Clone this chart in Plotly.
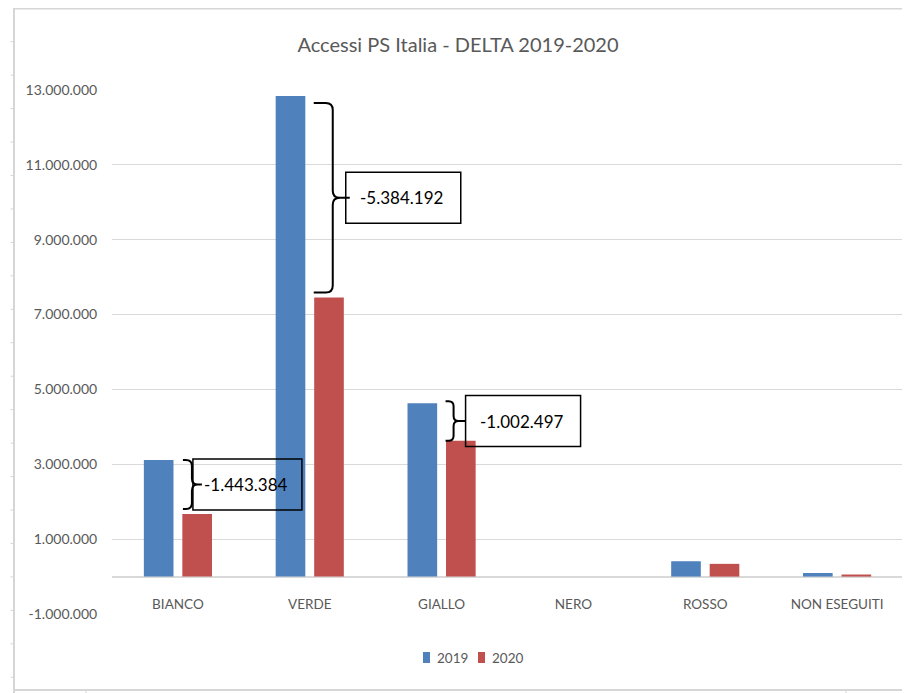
import plotly.graph_objects as go

# ---------------- data ----------------
categories = ["BIANCO", "VERDE", "GIALLO", "NERO", "ROSSO", "NON ESEGUITI"]
values_2019 = [3115000, 12840000, 4630000, 0, 410000, 95000]
values_2020 = [1671616, 7455808, 3627503, 0, 340000, 55000]
series_names = ["2019", "2020"]
y_tickvals = [-1000000, 1000000, 3000000, 5000000, 7000000, 9000000, 11000000, 13000000]
y_ticklabels = ["-1.000.000", "1.000.000", "3.000.000", "5.000.000", "7.000.000",
                "9.000.000", "11.000.000", "13.000.000"]
delta_categories = ["BIANCO", "VERDE", "GIALLO"]
title_text = "Accessi PS Italia - DELTA 2019-2020"

# ---------------- geometry / style ----------------
# page body has an 8px margin: work in window pixels, then shift by OFF
OFF = 8
W, H = 910, 693                  # window size
L, R, T, B = 112, 903, 90, 614   # plot area in window pixels
FW, FH = W - OFF, H - OFF        # figure size
YMIN, YMAX = -1000000, 13000000
FONT = "Lato, sans-serif"
GRAY = "#595959"
GRID = "#d9d9d9"
COLORS = ["#4F81BD", "#C0504D"]

cw = (R - L) / len(categories)          # px per category unit
yscale = (YMAX - YMIN) / (B - T)         # value per px


def fmt(v):
    s = f"{abs(int(v)):,}".replace(",", ".")
    return ("-" if v < 0 else "") + s


def bx(i, off_px):
    return i + off_px / cw


def px2paper_x(px):
    return (px - L) / (R - L)


def px2paper_y(py):
    return (B - py) / (B - T)


def cont_x(px):
    return (px - OFF) / FW


def cont_y(py):
    return 1 - (py - OFF) / FH


# per-delta brace/box styling (pixel offsets from category centre)
brace_style = {
    "BIANCO": dict(x0=5, x1=14, x2=24, pad_top=0, pad_bot=5, box_l=15, box_r=124, text=24, r=6),
    "VERDE": dict(x0=4, x1=23, x2=40, pad_top=-7, pad_bot=5, box_l=36, box_r=151, text=48, r=7),
    "GIALLO": dict(x0=4, x1=12, x2=24, pad_top=2, pad_bot=0, box_l=24, box_r=139, text=36, r=5),
}

fig = go.Figure()
for name, vals, col in zip(series_names, [values_2019, values_2020], COLORS):
    fig.add_trace(go.Bar(x=list(range(len(categories))), y=vals, name=name,
                         marker=dict(color=col, line=dict(width=0))))

shapes = []
annotations = []
for cat in delta_categories:
    i = categories.index(cat)
    st = brace_style[cat]
    v19, v20 = values_2019[i], values_2020[i]
    yt = v19 + st["pad_top"] * yscale
    yb = v20 + st["pad_bot"] * yscale
    ym = (yt + yb) / 2
    rr = st["r"] * yscale
    X0, X1, X2 = bx(i, st["x0"]), bx(i, st["x1"]), bx(i, st["x2"])
    rx = min(st["r"], st["x1"] - st["x0"]) / cw
    path = (f"M {X0},{yt} L {X1 - rx},{yt} Q {X1},{yt} {X1},{yt - rr} "
            f"L {X1},{ym + rr} Q {X1},{ym} {X1 + rx},{ym} L {X2},{ym} "
            f"M {X1 + rx},{ym} Q {X1},{ym} {X1},{ym - rr} "
            f"L {X1},{yb + rr} Q {X1},{yb} {X1 - rx},{yb} L {X0},{yb}")
    shapes.append(dict(type="path", xref="x", yref="y", path=path,
                       line=dict(color="black", width=2)))
    half_h = 25.5 * yscale
    shapes.append(dict(type="rect", xref="x", yref="y",
                       x0=bx(i, st["box_l"]), x1=bx(i, st["box_r"]),
                       y0=ym - half_h, y1=ym + half_h,
                       line=dict(color="black", width=1.5), fillcolor="rgba(0,0,0,0)"))
    annotations.append(dict(xref="x", yref="y", x=bx(i, st["text"]), y=ym,
                            xanchor="left", yanchor="middle", showarrow=False,
                            text=fmt(v20 - v19),
                            font=dict(family=FONT, size=17, color="black")))

# legend drawn manually (Excel-style compact spacing)
legend_x = [423, 478]
for name, col, lx in zip(series_names, COLORS, legend_x):
    shapes.append(dict(type="rect", xref="paper", yref="paper",
                       x0=px2paper_x(lx), x1=px2paper_x(lx + 7),
                       y0=px2paper_y(663), y1=px2paper_y(652),
                       line=dict(width=0), fillcolor=col))
    annotations.append(dict(xref="paper", yref="paper", x=px2paper_x(lx + 12),
                            y=px2paper_y(657.5), xanchor="left", yanchor="middle",
                            showarrow=False, text=name,
                            font=dict(family=FONT, size=13.5, color=GRAY)))

# sheet frame (light gray lines around the chart)
FR = "#d6d6d6"
shapes += [
    dict(type="line", xref="paper", yref="paper", x0=px2paper_x(14), x1=px2paper_x(14),
         y0=px2paper_y(5), y1=px2paper_y(693), line=dict(color=FR, width=2)),
    dict(type="line", xref="paper", yref="paper", x0=px2paper_x(13), x1=px2paper_x(910),
         y0=px2paper_y(8.5), y1=px2paper_y(8.5), line=dict(color=FR, width=2)),
    dict(type="line", xref="paper", yref="paper", x0=px2paper_x(13), x1=px2paper_x(910),
         y0=px2paper_y(690), y1=px2paper_y(690), line=dict(color=FR, width=2)),
]
for k in range(20):
    py = 41.7 + 33.45 * k
    shapes.append(dict(type="line", xref="paper", yref="paper",
                       x0=px2paper_x(10.5), x1=px2paper_x(14), y0=px2paper_y(py), y1=px2paper_y(py),
                       line=dict(color=FR, width=1)))
for pxx in (86, 846):
    shapes.append(dict(type="line", xref="paper", yref="paper", x0=px2paper_x(pxx), x1=px2paper_x(pxx),
                       y0=px2paper_y(690), y1=px2paper_y(693), line=dict(color=FR, width=1)))

fig.update_layout(
    width=FW, height=FH, autosize=False,
    margin=dict(l=L - OFF, r=W - R, t=T - OFF, b=H - B, pad=0, autoexpand=False),
    paper_bgcolor="white", plot_bgcolor="white",
    title=dict(text=title_text, x=cont_x(458), xref="container", xanchor="center",
               y=cont_y(44.5), yref="container", yanchor="middle",
               font=dict(family=FONT, size=20, color=GRAY)),
    barmode="group", bargap=0.416, bargroupgap=0.23,
    showlegend=False,
    xaxis=dict(range=[-0.5, len(categories) - 0.5], tickvals=list(range(len(categories))),
               ticktext=categories, anchor="free",
               position=(0 - YMIN) / (YMAX - YMIN),
               showgrid=False, zeroline=False, showline=False,
               ticks="outside", ticklen=15, tickcolor="rgba(0,0,0,0)",
               tickfont=dict(family=FONT, size=13.5, color=GRAY), fixedrange=True),
    yaxis=dict(range=[YMIN, YMAX], tickvals=y_tickvals, ticktext=y_ticklabels,
               anchor="free", position=0,
               showgrid=True, gridcolor=GRID, gridwidth=1,
               zeroline=True, zerolinecolor=GRID, zerolinewidth=1.5,
               showline=False, ticks="outside", ticklen=12, tickcolor="rgba(0,0,0,0)",
               tickfont=dict(family=FONT, size=14, color=GRAY), fixedrange=True),
    shapes=shapes, annotations=annotations,
)

fig.write_html("out.html")
